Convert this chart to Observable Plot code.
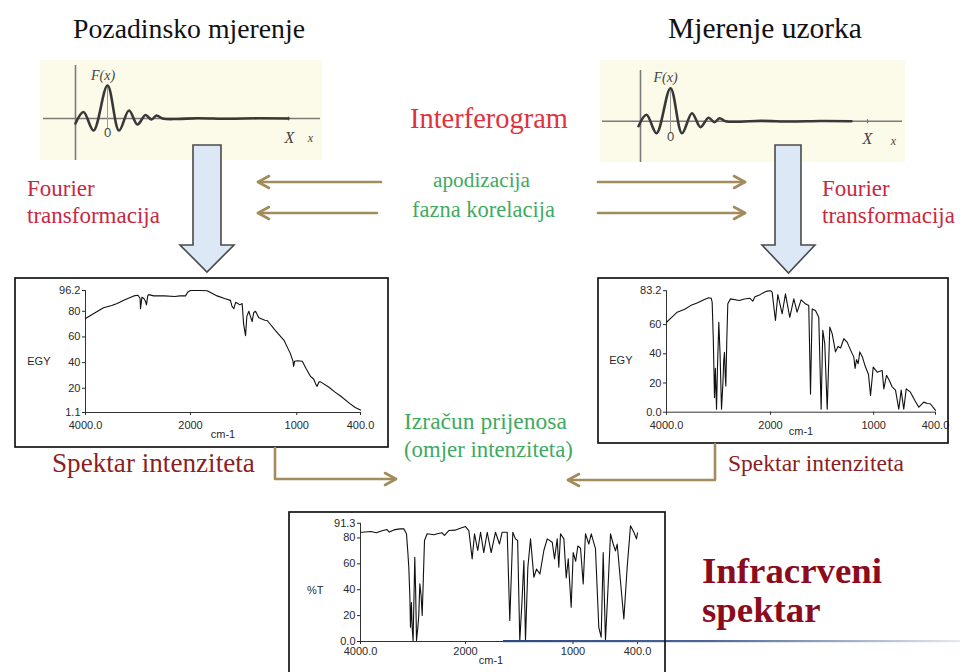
<!DOCTYPE html>
<html><head><meta charset="utf-8">
<script src="https://cdn.jsdelivr.net/npm/d3@7"></script>
<script src="https://cdn.jsdelivr.net/npm/@observablehq/plot@0.6"></script>
<style>
body{margin:0;background:#fff}
#root{position:relative;width:960px;height:672px;overflow:hidden;background:#fff}
.abs{position:absolute}
.t{position:absolute;white-space:nowrap;line-height:1;font-family:"Liberation Serif","DejaVu Serif",serif}
</style></head><body><div id="root"></div>
<script>
// ---------- DATA ----------
// Interferogram (arbitrary units, peak at 0)
const ifgX = [-3.2, -2.4, -1.4, 0, 1.15, 2.15, 3.0, 3.8, 4.4, 4.9, 5.5, 7, 9, 12, 15, 18.1];
const ifgF = [-0.5, 0.65, -1.2, 3.3, -1.2, 0.8, -0.6, 0.35, -0.1, 0.3, 0.0, -0.05, 0.03, -0.03, 0.02, 0];

// Background (single-beam) spectrum, EGY
const bgWn  = [4000,3850,3657,3500,3397,3250,3080,3000,2960,2952,2925,2889,2860,2838,2815,2794,2700,2500,2300,2200,2095,2050,2000,1900,1843,1749,1680,1624,1610,1592,1575,1555,1535,1514,1500,1482,1470,1451,1440,1420,1405,1388,1357,1300,1278,1200,1120,1060,1035,1030,1020,990,948,910,870,840,820,808,790,776,700,640,588,500,450,400];
const bgVal = [74.4,78,82.8,84.5,86,89,92,92.5,90,82,91,90,88,85,92,93,92,92,91.5,92,92,95,96.2,96.2,96,92,90,88.5,84,82,87,86,85,86,70,61,76,80,77,72,79,80,75,73,72.8,65,57.4,47,41,37,41,41.5,41,35,29.2,27,23,21.5,25,25,21,17,14,8,5,3];

// Sample (single-beam) spectrum, EGY
const smpWn  = [4000,3900,3795,3650,3538,3400,3282,3186,3140,3122,3100,3077,3060,3038,3020,2994,2970,2942,2915,2900,2885,2870,2859,2840,2821,2769,2600,2500,2400,2385,2340,2300,2200,2100,2064,2000,1984,1952,1929,1887,1855,1813,1774,1742,1703,1661,1629,1612,1596,1564,1532,1509,1493,1474,1450,1425,1402,1370,1345,1320,1289,1257,1220,1192,1180,1166,1150,1134,1110,1079,1050,1030,1004,965,940,917,901,875,850,820,788,756,733,708,684,643,600,562,514,480,450,400];
const smpVal = [61.6,65,68.5,70.5,73,75,77,78.4,78,75.4,50,10,30,2,30,61.6,40,2,20,35,41,25,18,50,74.2,77.6,76.5,77.5,78,77.6,76,79,80.5,82.5,82.9,83.2,82.2,62.8,80.6,67.4,81,65,77.6,68.5,76.9,74.2,73,12.5,70.7,69.6,65,2,56,47,2,58.3,53.8,41.3,45,44,50.3,48,42,37.7,30,36,33.2,41.3,38,30.9,26,11.4,30.9,27.4,28,28.5,16,25.3,22,17.3,15.1,2,15.1,2,16,13.7,8,3.4,6.9,6,5.8,1.3];

// Transmittance spectrum, %T
const trWn  = [4000,3968,3800,3700,3619,3500,3450,3365,3250,3175,3124,3100,3080,3060,3048,3030,3015,2998,2966,2950,2933,2910,2890,2870,2845,2825,2781,2730,2600,2540,2450,2400,2318,2200,2100,2000,1969,1938,1916,1886,1860,1830,1798,1761,1721,1684,1659,1612,1588,1560,1535,1515,1495,1475,1457,1442,1420,1395,1364,1339,1308,1271,1240,1193,1172,1147,1132,1116,1085,1063,1044,1017,998,975,955,930,905,884,853,830,791,760,738,719,698,675,651,626,605,589,527,496,465,434,409,400];
const trVal = [84.4,84.4,85,84,85.2,86.5,84.5,86.2,87,87,83.2,70,57.4,35,11,30,10,0.7,65.1,40,0.7,10,20,44.5,35,20.1,78,83.2,82.5,83.2,84,82,85.7,86,87.5,88.8,85.7,63.8,83.2,70.3,84.4,68.7,84.4,68.7,84.4,75.3,84.4,84.4,16.2,84.4,79.3,78,0.7,30,62.5,0.7,57.4,79.3,49.6,56,52.1,70.3,79.3,76.7,63.8,79.3,57.4,83.2,79.3,49,63.8,26.4,68.7,62,73.8,72,44.5,83.2,75.3,83.2,71.7,11,3.3,68.7,0.7,40,83.2,75.3,70,75.3,17.4,57.4,89.4,84.4,79.3,84];

// Tick labels
const xTicks = [4000, 2000, 1000, 400];
const bgYTicks = [1.1, 20, 40, 60, 80, 96.2];
const smpYTicks = [0, 20, 40, 60, 83.2];
const trYTicks = [0, 20, 40, 60, 80, 91.3];

// Texts
const titles = ["Pozadinsko mjerenje", "Mjerenje uzorka"];
const ifgLabels = ["F(x)", "0", "X", "x"];

// ---------- RENDER ----------
const root = document.getElementById("root");
const arrowCol = "#a38c5c";
const SERIF = "Liberation Serif, DejaVu Serif, serif";
const SANS = "Liberation Sans, Arial, sans-serif";

function svgLayer() {
  return d3.select(root).append("svg").attr("width", 960).attr("height", 672)
    .style("position", "absolute").style("left", 0).style("top", 0).style("pointer-events", "none");
}

// Background layer
const bg = svgLayer();
bg.append("rect").attr("x", 40).attr("y", 60).attr("width", 282).attr("height", 100).attr("fill", "#fcfbea");
bg.append("rect").attr("x", 600).attr("y", 60).attr("width", 305).attr("height", 102).attr("fill", "#fcfbea");

function place(node, x, y) {
  const d = document.createElement("div");
  d.className = "abs"; d.style.left = x + "px"; d.style.top = y + "px";
  d.appendChild(node); root.appendChild(d);
}

function interferogram({x, y, w, h, xDomain, yDomain, vAxis, vTop, hAxis, xMark, lx, ly}) {
  const chart = Plot.plot({
    width: w, height: h, margin: 0,
    style: {background: "transparent", overflow: "visible"},
    x: {domain: xDomain, axis: null},
    y: {domain: yDomain, axis: null},
    marks: [
      Plot.ruleY([0], {x1: hAxis[0], x2: hAxis[1], stroke: "#7a7a7a", strokeWidth: 1.6}),
      Plot.ruleX([vAxis], {y1: yDomain[0], y2: vTop, stroke: "#7a7a7a", strokeWidth: 1.6}),
      Plot.ruleX([0], {y1: -1.1, y2: 3.3, stroke: "#9a9a9a", strokeWidth: 1}),
      Plot.ruleX([xMark], {y1: -0.25, y2: 0.15, stroke: "#7a7a7a", strokeWidth: 1.2}),
      Plot.line(ifgF, {x: ifgX, y: ifgF, curve: "catmull-rom", stroke: "#383838", strokeWidth: 2.6}),
      ...ifgLabels.map((t, i) => Plot.text([t], {x: [lx[i]], y: [ly[i]], text: d => d, fill: "#444",
        fontFamily: i === 1 ? SANS : SERIF, fontStyle: i === 1 ? "normal" : "italic",
        fontSize: [14, 13, 16, 12][i]}))
    ]
  });
  place(chart, x, y);
}

interferogram({x: 40, y: 60, w: 282, h: 100, xDomain: [-6.7, 21.5], yDomain: [-4.2, 5.8],
  vAxis: -3.2, vTop: 5.3, hAxis: [-6.4, 21.3], xMark: 18.1,
  lx: [-0.45, 0, 18.2, 20.3], ly: [4.3, -1.45, -1.9, -2.0]});
interferogram({x: 600, y: 60, w: 305, h: 102, xDomain: [-7, 23.5], yDomain: [-4.13, 6.07],
  vAxis: -3.0, vTop: 5.07, hAxis: [-6.8, 23.2], xMark: 19.7,
  lx: [-0.5, 0, 19.7, 22.3], ly: [4.4, -1.6, -1.8, -2.0]});

const fmtX = d => (d === 4000 || d === 400) ? d.toFixed(1) : String(d);
const fmtY = d => (Number.isInteger(d) && d !== 0) ? String(d) : d.toFixed(1);

function spectrum({wn, val, yDomain, yTicks, yLabel, box, xr, yr, xPad, lblDx, lblDy, cmDx, cmDy}) {
  const [bx, by, bw, bh] = box;
  const chart = Plot.plot({
    width: bw, height: bh,
    marginLeft: xr[0], marginRight: bw - xr[2], marginTop: yr[1], marginBottom: bh - yr[0],
    style: {background: "transparent", overflow: "visible", fontFamily: SANS, fontSize: "11px", color: "#2a2a2a"},
    x: {type: "linear", domain: [4000, 2000, 400], range: xr},
    y: {domain: yDomain, range: yr},
    marks: [
      Plot.axisX({ticks: xTicks, tickFormat: fmtX, tickSize: 3, tickPadding: xPad, label: null}),
      Plot.axisY({ticks: yTicks, tickFormat: fmtY, tickSize: 3, tickPadding: 2, label: null}),
      Plot.ruleX([4000], {y1: yDomain[0], y2: yDomain[1], stroke: "#333", strokeWidth: 1}),
      Plot.ruleY([yDomain[0]], {x1: 4000, x2: 400, stroke: "#333", strokeWidth: 1}),
      Plot.line(val, {x: wn, y: val, stroke: "#111", strokeWidth: 1.1}),
      Plot.text([yLabel], {text: d => d, frameAnchor: "left", textAnchor: "end", dx: lblDx, dy: lblDy, fill: "#2a2a2a"}),
      Plot.text(["cm-1"], {text: d => d, frameAnchor: "bottom", dx: cmDx, dy: cmDy, fill: "#2a2a2a"})
    ]
  });
  place(chart, bx, by);
}

spectrum({wn: bgWn, val: bgVal, yDomain: [1.1, 96.2], yTicks: bgYTicks, yLabel: "EGY",
  box: [15, 278, 373, 169], xr: [70, 175, 345], yr: [134, 12], xPad: 6, lblDx: -35, lblDy: 10, cmDx: 0, cmDy: 25});
spectrum({wn: smpWn, val: smpVal, yDomain: [0, 83.2], yTicks: smpYTicks, yLabel: "EGY",
  box: [598, 278, 350, 165], xr: [68, 172, 337], yr: [133.7, 12.2], xPad: 6, lblDx: -34, lblDy: 9, cmDx: 0, cmDy: 23});
spectrum({wn: trWn, val: trVal, yDomain: [0, 91.3], yTicks: trYTicks, yLabel: "%T",
  box: [289, 512, 376, 200], xr: [71, 176, 348], yr: [129, 10.8], xPad: 3, lblDx: -37, lblDy: 8, cmDx: -8, cmDy: 22});

// Foreground layer: boxes, arrows, decoration
const fg = svgLayer();
const defs = fg.append("defs");
const grad = defs.append("linearGradient").attr("id", "deco").attr("x1", 0).attr("x2", 1).attr("y1", 0).attr("y2", 0);
grad.append("stop").attr("offset", 0).attr("stop-color", "#2c4a80");
grad.append("stop").attr("offset", 0.45).attr("stop-color", "#4d6796");
grad.append("stop").attr("offset", 1).attr("stop-color", "#e6e8ee");
fg.append("rect").attr("x", 503).attr("y", 640).attr("width", 457).attr("height", 2.2).attr("fill", "url(#deco)");

[[15, 278, 373, 169], [598, 278, 350, 165], [289, 512, 376, 200]].forEach(([x, y, w, h]) =>
  fg.append("rect").attr("x", x).attr("y", y).attr("width", w).attr("height", h)
    .attr("fill", "none").attr("stroke", "#151515").attr("stroke-width", 1.7));

// block arrows
function blockArrow(x0, x1, top, headY, hx0, hx1, tipY) {
  const tip = (hx0 + hx1) / 2;
  fg.append("path").attr("d", `M${x0},${top}H${x1}V${headY}H${hx1}L${tip},${tipY}L${hx0},${headY}H${x0}Z`)
    .attr("fill", "#dce8f6").attr("stroke", "#4a4a4a").attr("stroke-width", 1.6).attr("stroke-linejoin", "miter");
}
blockArrow(193, 221, 145, 245, 180, 234, 272);
blockArrow(775, 801, 145, 245, 762, 815, 273);

function lineArrow(d, tipX, tipY, dir) {
  fg.append("path").attr("d", d).attr("fill", "none").attr("stroke", arrowCol).attr("stroke-width", 2.6).attr("stroke-linecap", "round").attr("stroke-linejoin", "round");
  fg.append("path").attr("d", `M${tipX - dir * 11},${tipY - 6}L${tipX},${tipY}L${tipX - dir * 11},${tipY + 6}`)
    .attr("fill", "none").attr("stroke", arrowCol).attr("stroke-width", 2.6).attr("stroke-linecap", "round").attr("stroke-linejoin", "round");
}
lineArrow("M381,182H258", 258, 182, -1);
lineArrow("M377,213H258", 258, 213, -1);
lineArrow("M598,182H745", 745, 182, 1);
lineArrow("M598,213H745", 745, 213, 1);
lineArrow("M275,448V479H396", 396, 479, 1);
lineArrow("M715,444V480H568", 568, 480, -1);

// ---------- TEXT ----------
function addText(str, {x, cy, w, size = 20, color = "#111", weight = "normal"}) {
  const el = document.createElement("div");
  el.className = "t"; el.textContent = str;
  el.style.fontSize = size + "px"; el.style.color = color; el.style.fontWeight = weight;
  root.appendChild(el);
  if (w) { const cw = el.getBoundingClientRect().width; size = size * w / cw; el.style.fontSize = size + "px"; }
  el.style.left = x + "px"; el.style.top = (cy - 0.6 * size) + "px";
  return size;
}
addText(titles[0], {x: 73, cy: 32, w: 232});
addText(titles[1], {x: 668, cy: 32, w: 194});
addText("Interferogram", {x: 410, cy: 122, w: 158, color: "#e0323c"});
const fs = addText("transformacija", {x: 27, cy: 218, w: 133, color: "#c8283f"});
addText("Fourier", {x: 27, cy: 191, size: fs, color: "#c8283f"});
addText("transformacija", {x: 822, cy: 218, size: fs, color: "#c8283f"});
addText("Fourier", {x: 822, cy: 191, size: fs, color: "#c8283f"});
addText("apodizacija", {x: 433, cy: 183, w: 97, color: "#3faa5f"});
addText("fazna korelacija", {x: 412, cy: 212, w: 143, color: "#3faa5f"});
addText("Izračun prijenosa", {x: 404, cy: 424, w: 163, color: "#3faa5f"});
addText("(omjer intenziteta)", {x: 404, cy: 453, w: 169, color: "#3faa5f"});
addText("Spektar intenziteta", {x: 52, cy: 466, w: 203, color: "#8a1f1f"});
addText("Spektar intenziteta", {x: 728, cy: 466, w: 176, color: "#8a1f1f"});
const fs3 = addText("Infracrveni", {x: 702, cy: 575, w: 180, color: "#8c0b1c", weight: "bold"});
addText("spektar", {x: 702, cy: 614, size: fs3, color: "#8c0b1c", weight: "bold"});
</script></body></html>
